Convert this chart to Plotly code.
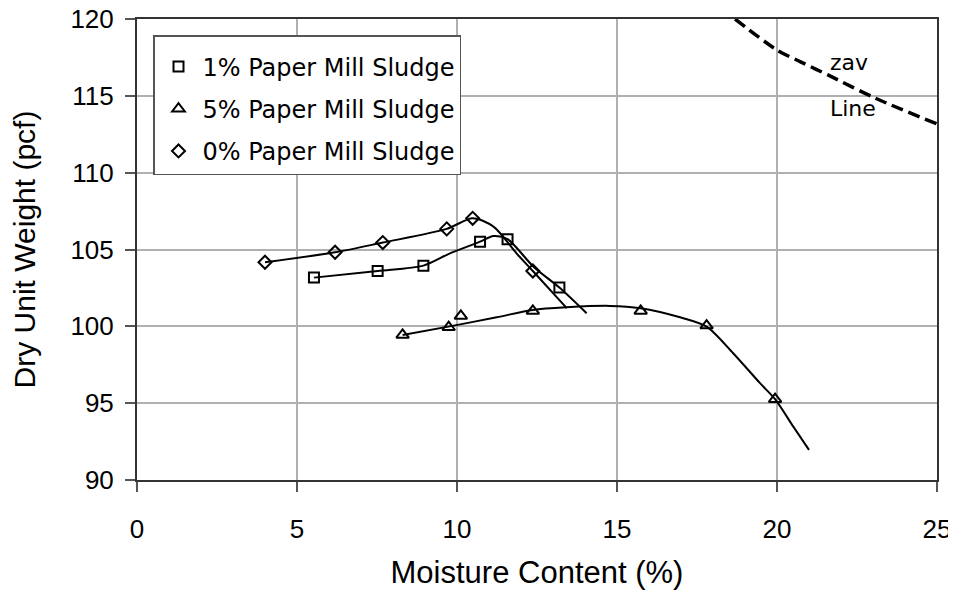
import plotly.graph_objects as go

# ---- measured data points ----
mc_1 = [5.53, 7.52, 8.95, 10.72, 11.58, 13.20]
dw_1 = [103.17, 103.60, 103.95, 105.51, 105.67, 102.52]

mc_5 = [8.30, 9.74, 10.12, 12.37, 15.74, 17.80, 19.94]
dw_5 = [99.44, 99.94, 100.68, 101.00, 101.00, 100.05, 95.26]

mc_0 = [4.00, 6.19, 7.68, 9.68, 10.49, 12.37]
dw_0 = [104.17, 104.82, 105.45, 106.34, 107.03, 103.60]

# ---- fitted (hand-drawn) curves ----
fit1_x = [5.53, 7.52, 8.95, 9.78, 10.72, 11.14, 11.58, 12.39, 13.20, 14.05]
fit1_y = [103.17, 103.60, 103.95, 104.75, 105.51, 105.88, 105.67, 103.88, 102.52, 100.85]

fit5_x = [8.30, 9.73, 11.24, 12.37, 13.43, 14.78, 15.74, 16.97, 17.80, 18.63, 19.47, 19.94, 20.51, 21.00]
fit5_y = [99.44, 99.98, 100.59, 101.07, 101.24, 101.33, 101.18, 100.59, 99.98, 98.25, 96.30, 95.26, 93.47, 91.96]

fit0_x = [4.00, 6.19, 7.68, 9.68, 10.49, 11.14, 11.86, 12.37, 13.43]
fit0_y = [104.17, 104.82, 105.45, 106.34, 107.03, 106.49, 104.75, 103.60, 101.18]

# ---- zero-air-voids line ----
zav_x = [18.69, 20.00, 20.72, 21.59, 23.06, 25.00]
zav_y = [120.00, 117.98, 117.23, 116.36, 114.86, 113.17]

x_ticks = [0, 5, 10, 15, 20, 25]
y_ticks = [90, 95, 100, 105, 110, 115, 120]

fig = go.Figure()

line_style = dict(color="black", width=2, shape="spline", smoothing=0.8)
for fx, fy in [(fit1_x, fit1_y), (fit5_x, fit5_y), (fit0_x, fit0_y)]:
    fig.add_trace(go.Scatter(x=fx, y=fy, mode="lines", line=line_style,
                             showlegend=False, hoverinfo="skip"))

fig.add_trace(go.Scatter(x=zav_x, y=zav_y, mode="lines",
                         line=dict(color="black", width=3.5, dash="12px,6px",
                                   shape="spline", smoothing=0.8),
                         showlegend=False, hoverinfo="skip"))

marker_line = dict(color="black", width=2)
fig.add_trace(go.Scatter(x=mc_1, y=dw_1, mode="markers", name="1% Paper Mill Sludge",
                         legendgroup="a",
                         marker=dict(symbol="square-open", size=10, color="black", line=marker_line)))
fig.add_trace(go.Scatter(x=mc_5, y=dw_5, mode="markers", name="5% Paper Mill Sludge",
                         legendgroup="b",
                         marker=dict(symbol="triangle-up-open", size=11, color="black", line=marker_line)))
fig.add_trace(go.Scatter(x=mc_0, y=dw_0, mode="markers", name="0% Paper Mill Sludge",
                         legendgroup="c",
                         marker=dict(symbol="diamond-open", size=10, color="black", line=marker_line)))

fig.add_annotation(x=21.6, y=117.2, text="zav", showarrow=False, xanchor="left",
                   font=dict(family="DejaVu Sans", size=22, color="black"))
fig.add_annotation(x=21.6, y=114.2, text="Line", showarrow=False, xanchor="left",
                   font=dict(family="DejaVu Sans", size=22, color="black"))

axis_common = dict(
    showline=True, linecolor="#333333", linewidth=2, mirror=True,
    showgrid=True, gridcolor="#b0b0b0", gridwidth=1.5,
    ticks="outside", ticklen=10, tickcolor="#555555", tickwidth=1.5,
    zeroline=False, ticklabeloverflow="allow",
    tickfont=dict(family="Liberation Sans, Arial", size=26, color="black"),
)

fig.update_xaxes(range=[0, 25], tickvals=x_ticks, ticktext=[str(v) for v in x_ticks],
                 title=dict(text="Moisture Content (%)", standoff=18,
                            font=dict(family="Liberation Sans, Arial", size=31, color="black")),
                 ticklabelstandoff=15, **axis_common)
fig.update_yaxes(range=[90, 120], tickvals=y_ticks, ticktext=[str(v) for v in y_ticks],
                 title=dict(text="Dry Unit Weight (pcf)", standoff=26,
                            font=dict(family="Liberation Sans, Arial", size=30, color="black")),
                 ticklabelstandoff=6, **axis_common)

fig.update_layout(
    width=948, height=584,
    margin=dict(l=129, r=19, t=11, b=112, autoexpand=False),
    plot_bgcolor="white", paper_bgcolor="white",
    legend=dict(x=0.02, y=0.965, xanchor="left", yanchor="top",
                bgcolor="white", bordercolor="#555555", borderwidth=1.5,
                font=dict(family="DejaVu Sans", size=24, color="black"),
                title=dict(text="&nbsp;", font=dict(size=6)),
                tracegroupgap=8, itemwidth=38),
)

fig.write_html("out.html")
